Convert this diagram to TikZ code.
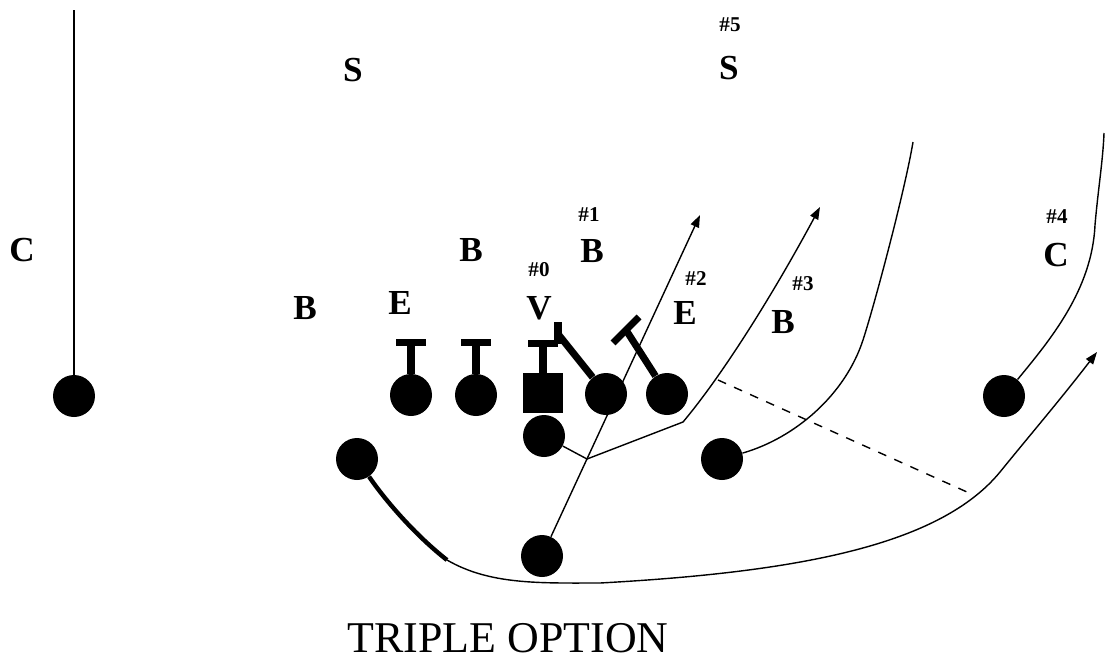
\documentclass[tikz,border=0pt]{standalone}
\usepackage{fontspec}
\setmainfont{Liberation Serif}
\usetikzlibrary{arrows.meta}

\begin{document}
\begin{tikzpicture}[x=0.02cm, y=-0.02cm,
    player/.style={circle, fill, inner sep=0, minimum size=0.84cm},
    snapper/.style={rectangle, fill, inner sep=0, minimum size=0.8cm},
    route/.style={line width=0.8pt},
    runto/.style={route, -{Triangle[length=7pt,width=5pt]}},
    blk/.style={line width=4pt},
    role/.style={font=\bfseries\fontsize{20}{24}\selectfont, inner sep=0},
    num/.style={font=\bfseries\fontsize{12}{14}\selectfont, inner sep=0}]

    \useasboundingbox (0,0) rectangle (1105,660);

    \node[role] (cl) at (22,250) {C};
    \node[role] (sl) at (353,70) {S};
    \node[num] (n5) at (730,25) {\#5};
    \node[role] (sr) at (729,68) {S};
    \node[role] (bl) at (305,308) {B};
    \node[role] (el) at (400,303) {E};
    \node[role] (bm) at (471,250) {B};
    \node[num] (n0) at (539,270) {\#0};
    \node[role] (vn) at (539,308) {V};
    \node[num] (n1) at (589,215) {\#1};
    \node[role] (bn) at (592,251) {B};
    \node[num] (n2) at (696,279) {\#2};
    \node[role] (er) at (685,313) {E};
    \node[num] (n3) at (803,284) {\#3};
    \node[role] (br) at (783,322) {B};
    \node[num] (n4) at (1057,217) {\#4};
    \node[role] (cr) at (1056,255) {C};

    \node[player] (wl) at (74,396) {};
    \node[player] (lt) at (411,395) {};
    \node[player] (lg) at (476,395) {};
    \node[snapper] (ce) at (543,393) {};
    \node[player] (rg) at (606,394) {};
    \node[player] (rt) at (667,394) {};
    \node[player] (qb) at (544,436) {};
    \node[player] (hb) at (357,459) {};
    \node[player] (sb) at (722,459) {};
    \node[player] (fb) at (542,556) {};
    \node[player] (wr) at (1004,396) {};

    \node[font=\fontsize{25}{30}\selectfont, inner sep=0] (title) at (508,638) {TRIPLE OPTION};

    \coordinate (wlEnd) at (74,10);
    \coordinate (fbEnd) at (700,215);
    \coordinate (qbMesh) at (587,459);
    \coordinate (qbEnd) at (820,207);
    \coordinate (sbEnd) at (913,142);
    \coordinate (wrEnd) at (1104,133);
    \coordinate (hbBend) at (447,560);
    \coordinate (hbEnd) at (1097,352);
    \coordinate (dashA) at (718,380);
    \coordinate (dashB) at (967,492);
    \coordinate (rgHit) at (558,334);
    \coordinate (rtHit) at (626,330);

    \foreach \p/\h in {lt/31, lg/31, ce/29}
        \draw[blk] (\p.north) -- ++(0,-\h) ++(-15,0) -- ++(30,0);
    \draw[blk] (rg) -- (rgHit);
    \draw[blk] (rgHit) ++(0,-12) -- ++(0,22);
    \draw[blk] (rt) -- (rtHit);
    \draw[blk] (rtHit) ++(-13,13) -- ++(26,-26);

    \draw[route] (wl.north) -- (wlEnd);
    \draw[runto] (fb) -- (fbEnd);
    \draw[runto] (qb) -- (qbMesh) -- (683,422) .. controls (720,378) and (770,300) .. (qbEnd);
    \draw[route] (sb) .. controls (795,438) and (845,395) .. (863,340)
        .. controls (875,303) and (905,190) .. (sbEnd);
    \draw[route] (wr) .. controls (1050,340) and (1092,290) .. (1095,225)
        .. controls (1098,190) and (1103,160) .. (wrEnd);
    \draw[line width=2.5pt] (hb) .. controls (385,500) and (415,535) .. (hbBend);
    \draw[runto] (hbBend) .. controls (490,585) and (540,583) .. (600,583)
        .. controls (800,572) and (940,545) .. (1000,472)
        .. controls (1030,435) and (1060,400) .. (hbEnd);
    \draw[route, dash pattern=on 5pt off 5pt] (dashA) -- (dashB);
\end{tikzpicture}
\end{document}
